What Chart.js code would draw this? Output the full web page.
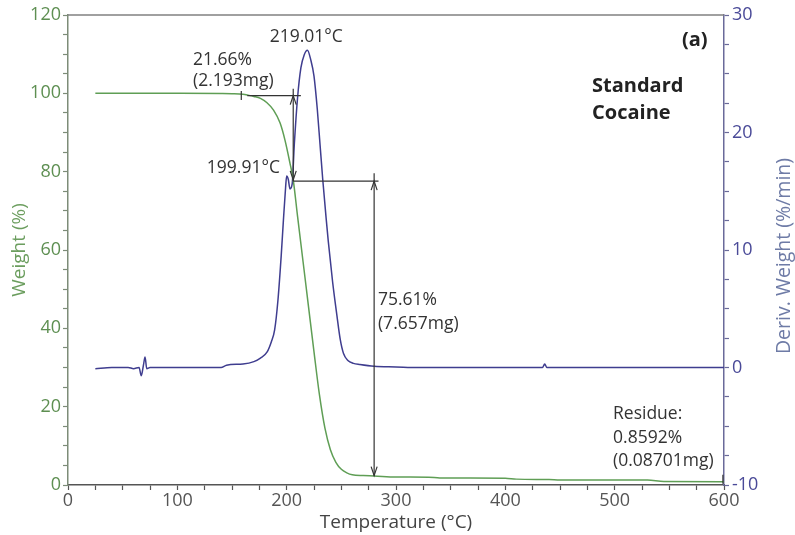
<!DOCTYPE html>
<html>
<head>
<meta charset="utf-8">
<title>TGA - Standard Cocaine</title>
<script src="https://cdn.jsdelivr.net/npm/chart.js@4.4.1/dist/chart.umd.min.js"></script>
<style>
    html, body { margin: 0; padding: 0; background: #ffffff; }
    #wrap { width: 795px; height: 535px; }
</style>
</head>
<body>
<div id="wrap"><canvas id="tgaChart" width="795" height="535"></canvas></div>
<script>
// Curva TG (peso %) e DTG (%/min)
const weightTemps = [25, 60, 100, 140, 150, 160, 165, 170, 176, 182, 188, 194, 198.5, 203, 206, 210, 215, 220, 225, 230, 235, 240, 245, 250, 255, 260, 270, 280, 300, 330, 340, 400, 410, 440, 450, 530, 545, 600];
const weightValues = [100, 100, 100, 99.95, 99.9, 99.75, 99.5, 99.2, 98.7, 97.6, 95.7, 92.4, 88, 82.2, 77.9, 68.5, 57, 45.5, 34, 23, 14.5, 9, 5.8, 4, 3.1, 2.6, 2.4, 2.3, 2.05, 2.0, 1.8, 1.75, 1.5, 1.4, 1.3, 1.25, 0.9, 0.86];

const derivTemps = [25, 40, 55, 60, 65, 67, 69, 70.5, 72, 75, 100, 140, 145, 160, 170, 176, 182, 186, 189, 192, 195, 197, 199, 200, 201.5, 203, 205, 207, 210, 213, 216, 219, 222, 225, 228, 230.5, 233, 236, 238, 242, 246, 249, 252, 256, 261, 267, 280, 300, 320, 434, 436, 438, 600];
const derivValues = [-0.1, 0, 0, -0.1, 0, -0.7, 0.2, 0.9, -0.1, 0, 0, 0, 0.2, 0.3, 0.5, 0.8, 1.3, 2.2, 3.2, 5.7, 9.5, 12.5, 15.3, 16.3, 16.0, 15.2, 15.6, 19, 23, 25.5, 26.6, 27.0, 26.2, 24.8, 22, 19, 16, 12.8, 10.8, 7.3, 4.4, 2.4, 1.2, 0.6, 0.35, 0.25, 0.1, 0.05, 0, 0, 0.3, 0, 0];

// Eixos
const xMajorStep = 100;
const weightMajorStep = 20;
const derivMajorStep = 10;

const fontFamily = '"Open Sans", "Noto Sans", sans-serif';

const tgaAnnotations = {
    id: 'tgaAnnotations',
    afterDraw(chart) {
        const { ctx, chartArea, scales } = chart;
        const px = v => scales.x.getPixelForValue(v);
        const py = v => scales.y.getPixelForValue(v);

        ctx.save();

        // moldura superior
        ctx.strokeStyle = '#808080';
        ctx.lineWidth = 1.5;
        ctx.beginPath();
        ctx.moveTo(chartArea.left, chartArea.top);
        ctx.lineTo(chartArea.right, chartArea.top);
        ctx.stroke();

        // linhas de medição
        ctx.strokeStyle = '#333333';
        ctx.lineWidth = 1.2;
        const line = (x1, y1, x2, y2) => {
            ctx.beginPath();
            ctx.moveTo(px(x1), py(y1));
            ctx.lineTo(px(x2), py(y2));
            ctx.stroke();
        };
        const arrow = (xv, yv, dir) => {
            const ax = px(xv), ay = py(yv);
            ctx.beginPath();
            ctx.moveTo(ax - 3, ay - dir * 9);
            ctx.lineTo(ax, ay);
            ctx.lineTo(ax + 3, ay - dir * 9);
            ctx.stroke();
        };

        line(158.5, 98.3, 158.5, 100.6);
        line(164, 99.4, 213, 99.4);
        line(206, 101.2, 206, 77.6);
        arrow(206, 99.4, -1);
        arrow(206, 77.9, 1);

        line(206, 77.6, 284, 77.6);
        line(280, 79.6, 280, 2.3);
        arrow(280, 77.6, -1);
        arrow(280, 2.4, 1);

        line(599, 2.6, 599, 0.3);

        // textos
        ctx.fillStyle = '#333333';
        ctx.textAlign = 'left';
        ctx.textBaseline = 'middle';
        ctx.font = '17.5px ' + fontFamily;
        const text = (t, xv, yv) => ctx.fillText(t, px(xv), py(yv));
        text('219.01°C', 184.5, 114.4);
        text('21.66%', 114.3, 108.5);
        text('(2.193mg)', 114.3, 103.1);
        text('199.91°C', 127, 80.9);
        text('75.61%', 283.5, 47.2);
        text('(7.657mg)', 283.5, 41.1);
        text('Residue:', 498.5, 18.1);
        text('0.8592%', 498.5, 12.0);
        text('(0.08701mg)', 498.5, 6.1);

        ctx.fillStyle = '#222222';
        ctx.font = 'bold 20px ' + fontFamily;
        text('(a)', 561.5, 113.6);
        text('Standard', 479.3, 101.9);
        text('Cocaine', 479.3, 95.0);

        // título do eixo direito (lido de baixo para cima)
        ctx.fillStyle = '#6e7ba6';
        ctx.font = '19.5px ' + fontFamily;
        ctx.textAlign = 'center';
        ctx.translate(784, 256);
        ctx.rotate(-Math.PI / 2);
        ctx.fillText('Deriv. Weight (%/min)', 0, 0);

        ctx.restore();
    }
};

const ctx = document.getElementById('tgaChart').getContext('2d');
const tgaChart = new Chart(ctx, {
    type: 'line',
    data: {
        datasets: [
            {
                label: 'Weight (%)',
                data: weightTemps.map((t, i) => ({ x: t, y: weightValues[i] })),
                borderColor: '#5f9e55',
                borderWidth: 1.5,
                pointRadius: 0,
                cubicInterpolationMode: 'monotone',
                yAxisID: 'y'
            },
            {
                label: 'Deriv. Weight (%/min)',
                data: derivTemps.map((t, i) => ({ x: t, y: derivValues[i] })),
                borderColor: '#3f3d8f',
                borderWidth: 1.5,
                pointRadius: 0,
                cubicInterpolationMode: 'monotone',
                yAxisID: 'y2'
            }
        ]
    },
    options: {
        responsive: false,
        animation: false,
        layout: { padding: { top: 15, left: 0, right: 0, bottom: 0 } },
        plugins: {
            legend: { display: false },
            tooltip: { enabled: false }
        },
        scales: {
            x: {
                type: 'linear',
                min: 0,
                max: 600,
                afterFit: s => { s.height = 50; },
                ticks: {
                    stepSize: 25,
                    autoSkip: false,
                    maxRotation: 0,
                    padding: 0,
                    color: '#555555',
                    font: { family: fontFamily, size: 18 },
                    callback: v => (v % xMajorStep === 0 ? v : '')
                },
                grid: { drawOnChartArea: false, tickLength: 5, tickColor: '#555555', tickWidth: 1.2 },
                border: { color: '#555555', width: 1.5 },
                title: {
                    display: true,
                    text: 'Temperature (°C)',
                    color: '#444444',
                    font: { family: fontFamily, size: 19 },
                    padding: { top: 0, bottom: 1 }
                }
            },
            y: {
                position: 'left',
                min: 0,
                max: 120,
                afterFit: s => { s.width = 68; },
                ticks: {
                    stepSize: 5,
                    autoSkip: false,
                    padding: 2,
                    color: '#5e8f52',
                    font: { family: fontFamily, size: 18 },
                    callback: v => (v % weightMajorStep === 0 ? v : '')
                },
                grid: { drawOnChartArea: false, tickLength: 5, tickColor: '#7d8c78', tickWidth: 1.2 },
                border: { color: '#7d8c78', width: 1.5 },
                title: {
                    display: true,
                    text: 'Weight (%)',
                    color: '#6c9e5f',
                    font: { family: fontFamily, size: 19 },
                    padding: { top: 8, bottom: 0 }
                }
            },
            y2: {
                position: 'right',
                min: -10,
                max: 30,
                afterFit: s => { s.width = 71; },
                ticks: {
                    stepSize: 2.5,
                    autoSkip: false,
                    padding: 3,
                    color: '#4a4a98',
                    font: { family: fontFamily, size: 18 },
                    callback: v => (v % derivMajorStep === 0 ? v : '')
                },
                grid: { drawOnChartArea: false, tickLength: 5, tickColor: '#6a6a9a', tickWidth: 1.2 },
                border: { color: '#6a6a9a', width: 1.5 }
            }
        }
    },
    plugins: [tgaAnnotations]
});
</script>
</body>
</html>
